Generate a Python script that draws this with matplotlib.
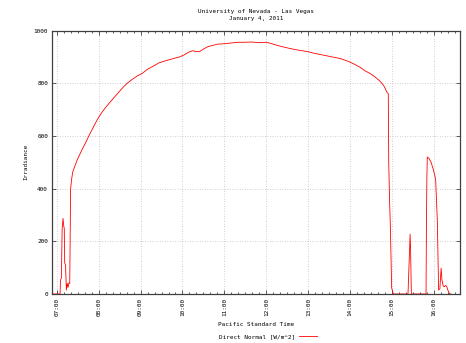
import matplotlib
matplotlib.use('Agg')
import matplotlib.pyplot as plt
from matplotlib.ticker import MultipleLocator, FuncFormatter

# Direct normal irradiance, hours (PST) and W/m^2
hours = [6.90, 7.05, 7.08, 7.09, 7.11, 7.13, 7.15, 7.17, 7.18, 7.19, 7.21, 7.23,
         7.25, 7.27, 7.29, 7.31, 7.32, 7.33, 7.35, 7.38, 7.43, 7.49, 7.55, 7.61,
         7.70, 7.78, 7.84, 7.92, 8.00, 8.10, 8.20, 8.28, 8.40, 8.50, 8.60, 8.68,
         8.80, 8.92, 9.04, 9.16, 9.30, 9.44, 9.60, 9.80, 9.92, 10.04, 10.14, 10.24,
         10.32, 10.40, 10.50, 10.60, 10.72, 10.84, 10.96, 11.08, 11.20, 11.32, 11.48,
         11.64, 11.80, 12.00, 12.10, 12.20, 12.36, 12.52, 12.70, 12.85, 13.00, 13.12,
         13.24, 13.40, 13.55, 13.68, 13.79, 13.95, 14.11, 14.23, 14.35, 14.47, 14.59,
         14.70, 14.79, 14.84, 14.87, 14.91, 14.92, 14.94, 14.96, 14.99, 15.03,
         15.38, 15.40, 15.42, 15.43, 15.44, 15.46,
         15.81, 15.82, 15.83, 15.84, 15.88, 15.93, 15.98, 16.02, 16.04, 16.08, 16.11,
         16.14, 16.17, 16.19, 16.22, 16.25, 16.27, 16.30, 16.33, 16.37, 16.40]
direct_normal = [0, 0, 0, 53, 60, 250, 287, 255, 250, 118, 110, 15,
                 40, 25, 42, 40, 200, 395, 430, 462, 485, 510, 530, 550,
                 578, 605, 623, 648, 671, 695, 715, 730, 752, 770, 788, 800,
                 815, 828, 838, 853, 865, 878, 886, 895, 900, 908, 918, 924,
                 921, 920, 930, 939, 944, 949, 950, 952, 954, 956, 956,
                 957, 955, 956, 952, 947, 940, 934, 928, 924, 920, 915,
                 911, 906, 901, 897, 893, 884, 872, 862, 848, 838, 825,
                 810, 794, 780, 768, 760, 500, 357, 250, 23, 0,
                 0, 91, 180, 227, 180, 0,
                 0, 275, 440, 520, 515, 500, 475, 450, 433, 275, 15,
                 20, 98, 53, 30, 28, 32, 30, 15, 0, 0]

title = 'University of Nevada - Las Vegas\nJanuary 4, 2011'
font = 'DejaVu Sans Mono'
fs = 4.3

fig = plt.figure(figsize=(4.66, 3.43), dpi=100)
ax = fig.add_axes([0.1122, 0.1429, 0.8749, 0.7676])

ax.plot(hours, direct_normal, color='red', lw=0.6, label='Direct Normal [W/m^2]')

ax.set_xlim(6.894, 16.62)
ax.set_ylim(0, 1000)
ax.xaxis.set_major_locator(MultipleLocator(1))
ax.xaxis.set_minor_locator(MultipleLocator(1 / 6))
ax.yaxis.set_major_locator(MultipleLocator(200))
ax.xaxis.set_major_formatter(FuncFormatter(lambda v, p: '%02d:00' % round(v)))

ax.tick_params(which='both', direction='in', top=True, right=True,
               color='#404040', width=0.6, labelsize=fs, pad=3)
ax.tick_params(which='major', length=3)
ax.tick_params(which='minor', length=1.5)
for lab in ax.get_xticklabels():
    lab.set_rotation(90)
    lab.set_family(font)
for lab in ax.get_yticklabels():
    lab.set_family(font)

for s in ax.spines.values():
    s.set_color('#404040')
    s.set_linewidth(0.9)

ax.grid(True, which='major', color='#c0c0c0', ls=(0, (1, 2)), lw=0.6)

ax.set_title(title, fontsize=fs, family=font, pad=8, linespacing=1.35)
ax.set_xlabel('Pacific Standard Time', fontsize=fs, family=font, labelpad=4)
ax.set_ylabel('Irradiance', fontsize=fs, family=font, labelpad=4)

fig.legend(loc='center', bbox_to_anchor=(0.575, 0.0175), frameon=False,
           markerfirst=False, handlelength=3.0, handletextpad=0.6,
           prop={'family': font, 'size': fs})

plt.savefig('out.png', dpi=100)
